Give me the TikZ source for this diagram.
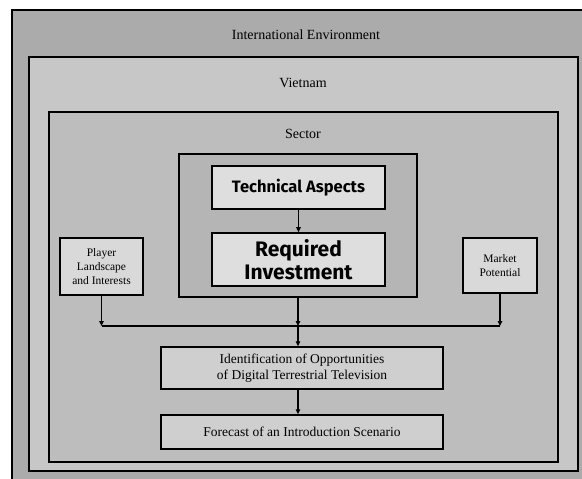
\documentclass[tikz,border=0pt]{standalone}
\usepackage{fontspec}
\setmainfont{Liberation Serif}
\newfontfamily\headfont{Fira Sans}
\usetikzlibrary{arrows.meta}

\definecolor{intlgray}{gray}{0.67}
\definecolor{vngray}{gray}{0.78}
\definecolor{secgray}{gray}{0.74}
\definecolor{coregray}{gray}{0.71}
\definecolor{boxgray}{gray}{0.87}
\definecolor{sidegray}{gray}{0.85}
\definecolor{flowgray}{gray}{0.81}

\tikzset{
  frame/.style={draw=black, line width=1.2pt, inner sep=0pt},
  framelabel/.style={font=\fontsize{14}{16}\selectfont, inner sep=0pt},
  corebox/.style={draw=black, line width=2.2pt, fill=coregray, inner sep=0pt},
  headbox/.style={draw=black, line width=1.6pt, fill=boxgray, inner sep=0pt,
    align=center, font=\headfont\bfseries},
  sidebox/.style={draw=black, line width=1.4pt, fill=sidegray, inner sep=0pt,
    align=center, font=\fontsize{11.5}{14}\selectfont},
  flowbox/.style={draw=black, line width=1.4pt, fill=flowgray, inner sep=0pt,
    align=center, font=\fontsize{13.5}{16}\selectfont},
  arr/.style={line width=1.1pt, -{Triangle[length=5pt,width=4.5pt]}},
  busline/.style={line width=1.1pt}
}

\begin{document}
\begin{tikzpicture}[x=1pt,y=-1pt]
  \clip (0,0) rectangle (582,479);
  \fill[white] (0,0) rectangle (582,479);

  % nested context frames
  \node[frame, fill=intlgray, minimum width=590pt, minimum height=490pt]
    (intl) at (307,255) {};
  \node[frame, fill=vngray, minimum width=549pt, minimum height=414pt]
    (vietnam) at (303.5,264) {};
  \node[frame, fill=secgray, minimum width=509pt, minimum height=350pt]
    (sector) at (303.5,287) {};

  \node[framelabel] (intllabel) at (306,35) {International Environment};
  \node[framelabel] (vnlabel) at (303,83) {Vietnam};
  \node[framelabel] (seclabel) at (303,134) {Sector};

  % technical core
  \node[corebox, minimum width=238pt, minimum height=143pt] (core) at (298,225.5) {};
  \node[headbox, minimum width=173pt, minimum height=43pt,
    font=\headfont\bfseries\fontsize{16.5}{19}\selectfont] (tech) at (298.5,187.5)
    {Technical Aspects};
  \node[headbox, minimum width=173pt, minimum height=53pt,
    font=\headfont\bfseries\fontsize{21}{22.5}\selectfont] (invest) at (298.5,259.5)
    {Required\\Investment};

  % side inputs
  \node[sidebox, minimum width=83pt, minimum height=57pt] (player) at (101.5,266.5)
    {Player\\Landscape\\and Interests};
  \node[sidebox, minimum width=74pt, minimum height=55pt] (market) at (500,265.5)
    {Market\\Potential};

  % results
  \node[flowbox, minimum width=282pt, minimum height=42pt] (ident) at (302,368)
    {Identification of Opportunities\\of Digital Terrestrial Television};
  \node[flowbox, minimum width=282pt, minimum height=34pt] (forecast) at (302,432)
    {Forecast of an Introduction Scenario};

  % connectors
  \coordinate (bus) at (0,326);
  \draw[arr] (tech.south) -- (invest.north);
  \draw[busline] (player.south |- bus) -- (market.south |- bus);
  \draw[arr] (player.south) -- (player.south |- bus);
  \draw[arr] (market.south) -- (market.south |- bus);
  \draw[arr] (core.south) -- (core.south |- bus);
  \draw[arr] (core.south |- bus) -- (core.south |- ident.north);
  \draw[arr] (core.south |- ident.south) -- (core.south |- forecast.north);
\end{tikzpicture}
\end{document}
